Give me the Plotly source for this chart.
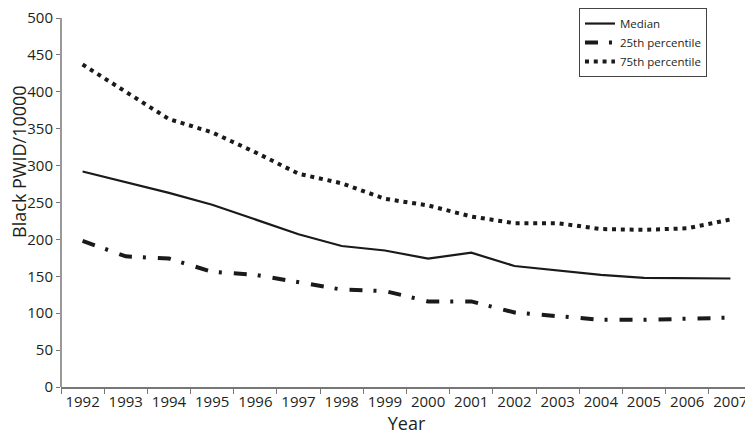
import plotly.graph_objects as go

years = [str(y) for y in range(1992, 2008)]
median = [292, 278, 263, 247, 227, 207, 191, 185, 174, 182, 164, 158, 152, 148, 147, 147]
p25 = [198, 177, 174, 156, 152, 142, 132, 130, 116, 116, 101, 96, 91, 91, 92, 94]
p75 = [437, 400, 363, 345, 318, 289, 276, 255, 246, 231, 222, 222, 214, 213, 215, 227]

font_family = "Open Sans, Lato, sans-serif"

fig = go.Figure()
fig.add_trace(go.Scatter(x=years, y=median, mode="lines", name="Median",
                         line=dict(color="#1a1a1a", width=2.2)))
fig.add_trace(go.Scatter(x=years, y=p25, mode="lines", name="25th percentile",
                         line=dict(color="#1a1a1a", width=4, dash="13px,11px,3px,12px")))
fig.add_trace(go.Scatter(x=years, y=p75, mode="lines", name="75th percentile",
                         line=dict(color="#1a1a1a", width=4, dash="4px,4.8px")))

# page body has an 8px margin, so the figure is 8px smaller than the window
fig.update_layout(
    width=745, height=431,
    margin=dict(l=53, r=1, t=10, b=52.3, autoexpand=False),
    paper_bgcolor="white", plot_bgcolor="white",
    font=dict(family=font_family, color="#231f20", size=15),
    showlegend=True,
    legend=dict(x=0.7496, y=1.027, xanchor="left", yanchor="top",
                bgcolor="white", bordercolor="#444", borderwidth=1,
                font=dict(size=11.5, family=font_family),
                tracegroupgap=0, itemwidth=30),
    xaxis=dict(type="category", range=[-0.5, 15.5], tickson="boundaries",
               ticks="outside", ticklen=5, tickcolor="#777", tickangle=0,
               showline=True, linecolor="#777", linewidth=1.5,
               showgrid=False, zeroline=False, automargin=False,
               tickfont=dict(size=15), ticklabeloverflow="allow",
               title=dict(text="Year", font=dict(size=18), standoff=8)),
    yaxis=dict(range=[0, 500], tickvals=list(range(0, 501, 50)),
               ticks="outside", ticklen=4, tickcolor="#777",
               showline=False, showgrid=False, zeroline=False, automargin=False,
               tickfont=dict(size=15), ticklabeloverflow="allow"),
    annotations=[dict(text="Black PWID/10000", xref="paper", yref="paper",
                      x=0, y=0.61, xanchor="center", yanchor="middle",
                      xshift=-42, textangle=-90, showarrow=False,
                      font=dict(size=18, family=font_family, color="#231f20"))],
)
# y axis line only spans 0..500, as in the original
fig.add_shape(type="line", xref="paper", yref="y", x0=0, x1=0, y0=0, y1=500,
              line=dict(color="#777", width=1.5))

fig.write_html("out.html")
